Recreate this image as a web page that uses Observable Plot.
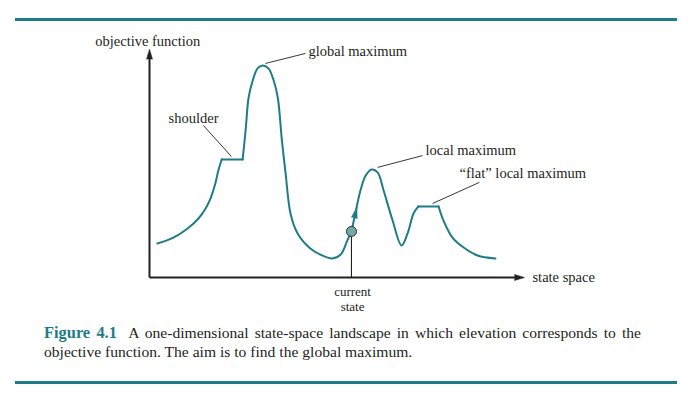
<!DOCTYPE html>
<html><head><meta charset="utf-8">
<script src="https://cdn.jsdelivr.net/npm/d3@7"></script>
<script src="https://cdn.jsdelivr.net/npm/@observablehq/plot@0.6"></script>
<style>
body{margin:0;background:#fff;}
#fig{position:relative;width:694px;height:399px;overflow:hidden;font-family:"Liberation Serif","Times New Roman",Tinos,Times,"DejaVu Serif",serif;background:#fff;}
.rule{position:absolute;left:15px;width:662px;height:3px;background:#1d7c88;}
#chart{position:absolute;left:0;top:0;}
#chart svg, #chart text{font-family:"Liberation Serif","Times New Roman",Tinos,Times,"DejaVu Serif",serif !important;}
#caption{position:absolute;left:44px;top:324px;width:597px;font-size:15.6px;line-height:18.5px;color:#231f20;text-align:justify;text-align-last:left;}
#caption .l1{display:block;text-align:justify;text-align-last:justify;}
#caption b{color:#1d7c88;font-size:16.4px;}
</style></head>
<body><div id="fig"><div class="rule" style="top:18px"></div><div id="chart"></div><div id="caption"><span class="l1"><b>Figure 4.1</b>&nbsp; A one-dimensional state-space landscape in which elevation corresponds to the</span>objective function. The aim is to find the global maximum.</div><div class="rule" style="top:381px"></div></div>
<script>
// Landscape: state (x) and objective value (y), split into pieces (flat parts are straight)
const landscapeState = [
  0.21,0.64,1.02,1.31,1.50,1.63,1.76,1.84,1.93,
  1.93,2.49,
  2.49,2.57,2.65,2.76,2.89,3.02,3.18,3.32,3.43,3.54,3.64,3.77,3.96,4.30,4.57,4.89,5.11,5.29,5.40,5.48,5.64,5.78,5.94,6.10,6.26,6.50,6.74,6.90,7.06,7.19,
  7.19,7.73,
  7.73,7.86,8.10,8.40,8.77,9.25
];
const landscapeObjective = [
  1.50,1.76,2.16,2.60,3.04,3.48,4.14,4.71,5.20,
  5.20,5.20,
  5.20,6.48,7.93,8.68,9.21,9.34,9.21,8.68,7.93,6.04,4.58,2.82,1.94,1.28,1.01,0.84,1.01,1.63,2.07,2.64,3.83,4.49,4.76,4.63,3.83,2.51,1.41,1.94,2.82,3.13,
  3.13,3.13,
  3.13,2.51,1.76,1.32,0.97,0.84
];
const landscapePiece = [
  "a","a","a","a","a","a","a","a","a",
  "shoulder","shoulder",
  "b","b","b","b","b","b","b","b","b","b","b","b","b","b","b","b","b","b","b","b","b","b","b","b","b","b","b","b","b","b",
  "flat","flat",
  "c","c","c","c","c","c"
];

// Current state
const currentState = 5.40;
const currentObjective = 2.03;

// Annotation labels
const labelText = ["objective function","global maximum","shoulder","local maximum","\u201cflat\u201d local maximum","state space"];
const labelState = [-1.45,4.25,0.51,7.38,8.29,10.24];
const labelObjective = [10.42,9.98,7.02,5.61,4.60,0.0];
const currentLabel = "current\nstate";
const currentLabelObjective = -0.36;

// Leader lines: from curve feature to label
const leaderState1 = [3.10,2.19,6.10,7.57];
const leaderObjective1 = [9.43,5.33,4.85,3.26];
const leaderState2 = [4.17,1.44,7.30,8.82];
const leaderObjective2 = [9.87,6.70,5.37,4.19];

const teal = "#1d7c88";
const ink = "#231f20";
const serif = "'Liberation Serif','Times New Roman',Tinos,Times,'DejaVu Serif',serif";

const landscape = landscapeState.map((s,i)=>({state:s, objective:landscapeObjective[i], piece:landscapePiece[i]}));
const labels = labelText.map((t,i)=>({text:t, state:labelState[i], objective:labelObjective[i]}));
const leaders = leaderState1.map((s,i)=>({x1:s, y1:leaderObjective1[i], x2:leaderState2[i], y2:leaderObjective2[i]}));

const chart = Plot.plot({
  width: 694,
  height: 320,
  margin: 0,
  style: {fontFamily: serif, fontSize: "14.5px", background: "transparent", color: ink},
  x: {domain: [0, 10], range: [149, 523], axis: null},
  y: {domain: [0, 10], range: [277, 50], axis: null},
  marks: [
    // axes
    Plot.link([0], {x1: 0, y1: 0, x2: 0, y2: 9.7, stroke: ink, strokeWidth: 2}),
    Plot.link([0], {x1: 0, y1: 0, x2: 9.8, y2: 0, stroke: ink, strokeWidth: 2}),
    Plot.vector([0], {x: 0, y: 9.62, length: 10, r: 3, rotate: 0, shape: "spike", anchor: "start", fill: ink, stroke: ink, strokeWidth: 0.5}),
    Plot.vector([0], {x: 9.76, y: 0, length: 10, r: 3, rotate: 90, shape: "spike", anchor: "start", fill: ink, stroke: ink, strokeWidth: 0.5}),
    // current-state drop line
    Plot.link([0], {x1: currentState, y1: 0, x2: currentState, y2: currentObjective, stroke: ink, strokeWidth: 1.1}),
    // landscape
    Plot.line(landscape, {x: "state", y: "objective", z: "piece", curve: "catmull-rom", stroke: teal, strokeWidth: 2}),
    // arrowhead on curve
    Plot.vector([0], {x: 5.475, y: 2.62, length: 11, r: 3, rotate: 14, shape: "spike", anchor: "start", fill: teal, stroke: teal, strokeWidth: 0.5}),
    // current state dot
    Plot.dot([0], {x: currentState, y: currentObjective, r: 5, fill: "#74a9a9", stroke: "#2b2b2b", strokeWidth: 1}),
    // leaders
    Plot.link(leaders, {x1: "x1", y1: "y1", x2: "x2", y2: "y2", stroke: ink, strokeWidth: 0.9}),
    // labels
    Plot.text(labels, {x: "state", y: "objective", text: "text", textAnchor: "start", fill: ink, fontSize: 14.5, fontFamily: serif}),
    Plot.text([currentLabel], {x: currentState + 0.03, y: currentLabelObjective, text: d => d, textAnchor: "middle", lineAnchor: "top", lineHeight: 1.12, fill: ink, fontSize: 13, fontFamily: serif})
  ]
});
document.getElementById("chart").appendChild(chart);
</script>
</body></html>
